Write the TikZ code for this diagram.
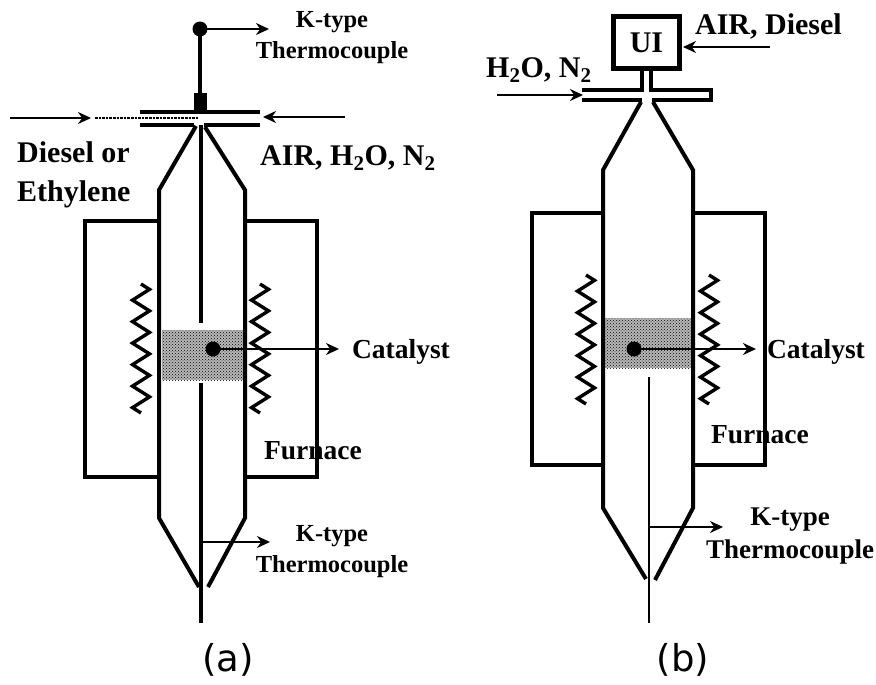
\documentclass[tikz,border=0pt]{standalone}
\usepackage{fontspec}
\setmainfont{Liberation Serif}
\newfontfamily\capfont{DejaVu Sans}
\usetikzlibrary{arrows.meta,decorations.pathmorphing,patterns}

\begin{document}
\begin{tikzpicture}[
    x=1pt, y=-1pt,
    tubeline/.style={line width=4pt, line join=miter},
    wallline/.style={line width=3.6pt, line join=miter},
    wireline/.style={line width=3.2pt},
    arrowline/.style={line width=2.6pt, -{Stealth[length=13pt, width=12pt]}},
    dashline/.style={line width=2.6pt, densely dotted},
    coilline/.style={line width=3.4pt, decorate, decoration={zigzag, segment length=21.5pt, amplitude=8.5pt}},
    catalystnode/.style={rectangle, preaction={fill=black!28}, pattern=crosshatch dots, pattern color=black, inner sep=0pt},
    dotnode/.style={circle, fill=black, inner sep=0pt, minimum size=15pt},
    labelnode/.style={inner sep=0pt, align=center, font=\bfseries\fontsize{30}{31}\selectfont},
    smalllabel/.style={inner sep=0pt, align=center, font=\bfseries\fontsize{24.5}{31}\selectfont},
    sidelabel/.style={inner sep=0pt, font=\bfseries\fontsize{27.5}{31}\selectfont},
    capnode/.style={inner sep=0pt, font=\capfont\fontsize{37}{40}\selectfont}
   ]
   \useasboundingbox (0,0) rectangle (876,685);

   % reactor (a)
   \node[catalystnode, minimum width=81pt, minimum height=50pt] (catalystA) at (202.5,355) {};
   \draw[wallline] (159,221) -- (85,221) -- (85,477) -- (159,477);
   \draw[wallline] (245,221) -- (317,221) -- (317,477) -- (245,477);
   \draw[tubeline] (196,126) -- (159,190) -- (159,518) -- (199,587);
   \draw[tubeline] (205,127) -- (245,190) -- (245,518) -- (208,587);
   \draw[wireline] (201,125) -- (201,323);
   \draw[wireline] (201,383) -- (201,623);
   \draw[line width=4.4pt] (140,112) -- (260,112);
   \draw[line width=4.4pt] (140,125) -- (194,125);
   \draw[line width=4.4pt] (204,125) -- (260,125);
   \fill (194,93) rectangle (207,113);
   \draw[dashline] (95,118) -- (198,118);
   \node[dotnode] (topdotA) at (200,29) {};
   \node[dotnode] (catdotA) at (213,349) {};
   \coordinate (blockA) at (200,95);
   \draw[wireline] (topdotA.center) -- (blockA);
   \coordinate (topendA) at (269,29);
   \coordinate (catendA) at (339,349);
   \coordinate (lowstartA) at (201,542);
   \coordinate (lowendA) at (270,542);
   \coordinate (feedstartA) at (10,118);
   \coordinate (feedendA) at (91,118);
   \coordinate (airstartA) at (345,117);
   \coordinate (airendA) at (263,117);
   \draw[arrowline] (topdotA.center) -- (topendA);
   \draw[arrowline] (catdotA.center) -- (catendA);
   \draw[arrowline] (lowstartA) -- (lowendA);
   \draw[arrowline] (feedstartA) -- (feedendA);
   \draw[arrowline] (airstartA) -- (airendA);
   \draw[coilline] (141,284) -- (141,413);
   \draw[coilline] (260,284) -- (260,413);

   \node[smalllabel] (ktopA) at (332,38) {K-type\\Thermocouple};
   \node[smalllabel] (klowA) at (332,552) {K-type\\Thermocouple};
   \node[labelnode, align=left, anchor=west] (dieselA) at (17,175) {Diesel or\\[8pt]Ethylene};
   \node[labelnode, anchor=west] (airA) at (260,158) {AIR, H$_{\mathbf 2}$O, N$_{\mathbf 2}$};
   \node[sidelabel] (catlabelA) at (401,352) {Catalyst};
   \node[sidelabel] (furnaceA) at (313,451) {Furnace};
   \node[capnode] (capA) at (228,660) {(a)};

   % reactor (b)
   \node[catalystnode, minimum width=86pt, minimum height=50pt] (catalystB) at (648,343) {};
   \draw[wallline] (603,213) -- (532,213) -- (532,465) -- (603,465);
   \draw[wallline] (693,213) -- (765,213) -- (765,465) -- (693,465);
   \draw[tubeline] (641,102) -- (603,170) -- (603,508) -- (646,579);
   \draw[tubeline] (653,102) -- (693,170) -- (693,508) -- (655,580);
   \draw[line width=2.8pt] (649,377) -- (649,623);
   \node[draw, line width=4.2pt, minimum width=66pt, minimum height=52pt, inner sep=0pt, font=\bfseries\fontsize{30}{32}\selectfont] (boxB) at (646.5,42.5) {UI};
   \draw[line width=3.6pt] (642,71) -- (642,90) -- (582,90);
   \draw[line width=3.6pt] (651,71) -- (651,90) -- (711,90) -- (711,100) -- (652,100);
   \draw[line width=3.6pt] (582,100) -- (642,100);
   \node[dotnode] (catdotB) at (634,349) {};
   \coordinate (catendB) at (756,349);
   \coordinate (lowstartB) at (649,527);
   \coordinate (lowendB) at (723,527);
   \coordinate (feedstartB) at (770,47);
   \coordinate (feedendB) at (683,47);
   \coordinate (waterstartB) at (497,95);
   \coordinate (waterendB) at (583,95);
   \draw[arrowline] (catdotB.center) -- (catendB);
   \draw[arrowline] (lowstartB) -- (lowendB);
   \draw[arrowline] (feedstartB) -- (feedendB);
   \draw[arrowline] (waterstartB) -- (waterendB);
   \draw[coilline] (586,275) -- (586,404);
   \draw[coilline] (709,275) -- (709,404);

   \node[labelnode, anchor=east] (airB) at (842,26) {AIR, Diesel};
   \node[labelnode, anchor=west] (waterB) at (486,70) {H$_{\mathbf 2}$O, N$_{\mathbf 2}$};
   \node[sidelabel] (catlabelB) at (816,352) {Catalyst};
   \node[sidelabel] (furnaceB) at (760,435) {Furnace};
   \node[smalllabel, font=\bfseries\fontsize{27}{33}\selectfont] (klowB) at (790,536) {K-type\\Thermocouple};
   \node[capnode] (capB) at (683,660) {(b)};
 \end{tikzpicture}
\end{document}
